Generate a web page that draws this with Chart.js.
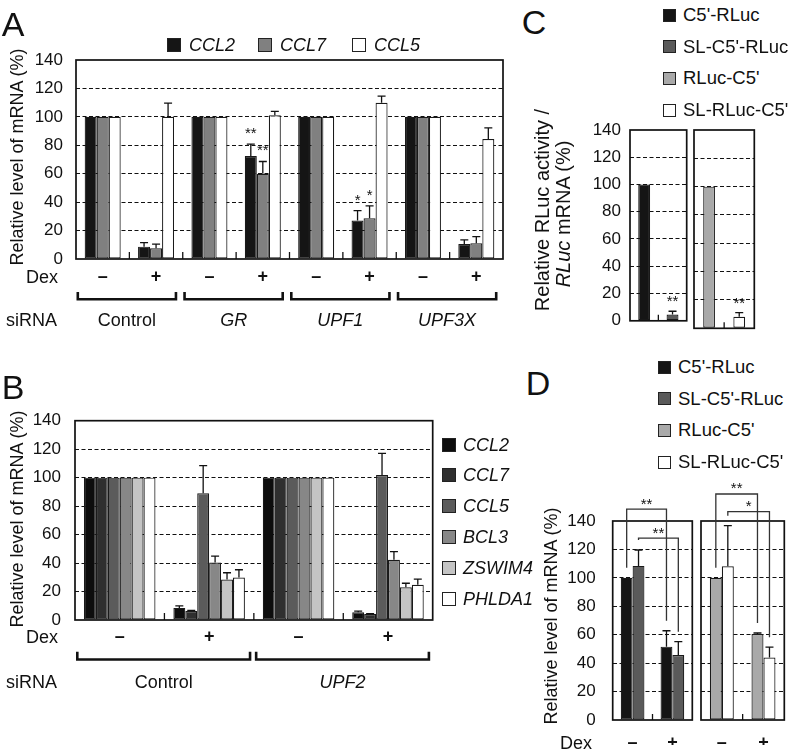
<!DOCTYPE html>
<html><head><meta charset="utf-8">
<script src="https://cdn.jsdelivr.net/npm/chart.js@4.4.1/dist/chart.umd.min.js"></script>
<style>
html,body{margin:0;padding:0;background:#fff;}
#fig{position:relative;width:793px;height:751px;overflow:hidden;font-family:"Liberation Sans",Arial,Helvetica,sans-serif;color:#111;}
canvas{position:absolute;}
.t{position:absolute;white-space:nowrap;line-height:1;}
.sq{position:absolute;border:1.2px solid #222;box-sizing:border-box;}
</style></head><body><div id="fig"></div>
<script>
// ---------------- Data ----------------
const yTicks = [0, 20, 40, 60, 80, 100, 120, 140];

// Panel A
const aDex = ['–', '+', '–', '+', '–', '+', '–', '+'];
const aSiRNA = ['Control', 'GR', 'UPF1', 'UPF3X'];
const aGenes = ['CCL2', 'CCL7', 'CCL5'];
const aCCL2 = [100, 8.7, 100, 72.5, 100, 27.0, 100, 10.6];
const aCCL7 = [100, 7.5, 100, 60.0, 100, 28.7, 100, 11.1];
const aCCL5 = [100, 100, 100, 101.1, 100, 109.9, 100, 84.4];
const aCCL2Err = [0, 2.8, 0, 8.3, 0, 7.1, 0, 2.8];
const aCCL7Err = [0, 2.9, 0, 8.6, 0, 8.7, 0, 4.7];
const aCCL5Err = [0, 9.6, 0, 2.8, 0, 4.7, 0, 7.8];
const aCCL2Sig = ['', '', '', '**', '', '*', '', ''];
const aCCL7Sig = ['', '', '', '**', '', '*', '', ''];

// Panel B
const bDex = ['–', '+', '–', '+'];
const bSiRNA = ['Control', 'UPF2'];
const bGenes = ['CCL2', 'CCL7', 'CCL5', 'BCL3', 'ZSWIM4', 'PHLDA1'];
const bCCL2 = [100, 8.5, 100, 5.4];
const bCCL7 = [100, 6.3, 100, 4.2];
const bCCL5 = [100, 89.0, 100, 101.8];
const bBCL3 = [100, 40.4, 100, 42.3];
const bZSWIM4 = [100, 28.4, 100, 23.0];
const bPHLDA1 = [100, 29.8, 100, 24.7];
const bCCL2Err = [0, 1.4, 0, 0.9];
const bCCL7Err = [0, 0.4, 0, 0.3];
const bCCL5Err = [0, 19.4, 0, 15.3];
const bBCL3Err = [0, 4.5, 0, 5.7];
const bZSWIM4Err = [0, 4.8, 0, 2.8];
const bPHLDA1Err = [0, 5.5, 0, 4.0];

// Panel C
const cConstructs = ["C5'-RLuc", "SL-C5'-RLuc", "RLuc-C5'", "SL-RLuc-C5'"];
const cLeftValues = [100, 4.6];
const cLeftErr = [0, 2.4];
const cLeftSig = ['', '**'];
const cRightValues = [100, 8.2];
const cRightErr = [0, 2.8];
const cRightSig = ['', '**'];

// Panel D
const dDex = ['–', '+'];
const dC5RLuc = [100, 51.6];
const dC5RLucErr = [0, 11.2];
const dSLC5RLuc = [108.4, 45.7];
const dSLC5RLucErr = [11.2, 9.4];
const dRLucC5 = [100, 60.5];
const dRLucC5Err = [0, 0.7];
const dSLRLucC5 = [108.2, 44.0];
const dSLRLucC5Err = [28.5, 7.2];
// significance brackets: dataset index, bracket height (data units), label
const dLeftSig = [{ds: 0, top: 148.3, label: '**'}, {ds: 1, top: 127.9, label: '**'}];
const dRightSig = [{ds: 0, top: 159.0, label: '**'}, {ds: 1, top: 146.6, label: '*'}];

// ---------------- Styles ----------------
const FONT = '"Liberation Sans", Arial, Helvetica, sans-serif';
const aColors = ['#151515', '#808080', '#ffffff'];
const bColors = ['#0d0d0d', '#2f2f2f', '#5b5b5b', '#878787', '#c4c4c4', '#ffffff'];
const cdColors = ['#151515', '#5a5a5a', '#a9a9a9', '#ffffff'];

const fig = document.getElementById('fig');
const figCfg = new Map();

function addText(html, x, y, o = {}) {
  const d = document.createElement('div');
  d.className = 't';
  d.innerHTML = html;
  d.style.fontSize = (o.size || 18) + 'px';
  if (o.italic) d.style.fontStyle = 'italic';
  if (o.bold) d.style.fontWeight = 'bold';
  d.style.left = x + 'px';
  d.style.top = y + 'px';
  const tx = o.align === 'center' ? '-50%' : (o.align === 'right' ? '-100%' : '0');
  d.style.transform = 'translate(' + tx + ',-50%)' + (o.rotate ? ' rotate(-90deg)' : '');
  fig.appendChild(d);
  return d;
}
function legendItem(x, yc, size, color, label, textX, fontSize, italic) {
  const s = document.createElement('div');
  s.className = 'sq';
  s.style.left = x + 'px'; s.style.top = (yc - size / 2) + 'px';
  s.style.width = size + 'px'; s.style.height = size + 'px';
  s.style.background = color;
  fig.appendChild(s);
  addText(label, textX, yc, {size: fontSize, italic: italic});
}
function makeCanvas(l, t, w, h) {
  const c = document.createElement('canvas');
  c.width = w; c.height = h;
  c.style.left = l + 'px'; c.style.top = t + 'px';
  c.style.width = w + 'px'; c.style.height = h + 'px';
  fig.appendChild(c);
  return c;
}

const figPlugin = {
  id: 'figdeco',
  afterDatasetsDraw(chart) {
    const o = figCfg.get(chart.canvas);
    const {ctx, chartArea: a} = chart;
    const x = chart.scales.x, y = chart.scales.y;
    const n = chart.data.labels.length;
    ctx.save();
    ctx.strokeStyle = '#111';
    ctx.fillStyle = '#111';
    ctx.lineCap = 'butt';
    ctx.lineJoin = 'miter';
    // short inner ticks between categories
    ctx.lineWidth = 1.3;
    for (let i = 1; i < n; i++) {
      const xx = (x.getPixelForValue(i - 1) + x.getPixelForValue(i)) / 2;
      ctx.beginPath(); ctx.moveTo(xx, a.bottom); ctx.lineTo(xx, a.bottom - o.tickLen); ctx.stroke();
    }
    // error bars + asterisks
    ctx.font = '15px ' + FONT;
    ctx.textAlign = 'center';
    ctx.textBaseline = 'alphabetic';
    chart.data.datasets.forEach((ds, di) => {
      const meta = chart.getDatasetMeta(di);
      meta.data.forEach((el, i) => {
        const v = ds.data[i];
        if (v === null || v === undefined) return;
        const e = ds.errors ? ds.errors[i] : 0;
        const top = y.getPixelForValue(v + e);
        if (e > 0) {
          ctx.lineWidth = 1.3;
          ctx.beginPath();
          ctx.moveTo(el.x, el.y); ctx.lineTo(el.x, top);
          ctx.moveTo(el.x - 4, top); ctx.lineTo(el.x + 4, top);
          ctx.stroke();
        }
        const s = ds.sig ? ds.sig[i] : '';
        if (s) ctx.fillText(s, el.x, top - o.sigGap);
      });
    });
    // frame
    ctx.lineWidth = 1.7;
    ctx.strokeRect(a.left, a.top, a.right - a.left, a.bottom - a.top);
    // group brackets below axis
    if (o.groups) {
      const g = o.groups;
      const half = (x.getPixelForValue(1) - x.getPixelForValue(0)) / 2;
      ctx.lineWidth = g.lw;
      for (let k = 0; k < n / g.size; k++) {
        const x0 = x.getPixelForValue(k * g.size) - half + g.inL;
        const x1 = x.getPixelForValue(k * g.size + g.size - 1) + half - g.inR;
        const y0 = a.bottom + g.y0, y1 = a.bottom + g.y1;
        ctx.beginPath(); ctx.moveTo(x0, y0); ctx.lineTo(x0, y1); ctx.lineTo(x1, y1); ctx.lineTo(x1, y0); ctx.stroke();
      }
    }
    // significance brackets (panel D)
    if (o.brackets) {
      ctx.lineWidth = 1.3;
      ctx.strokeStyle = '#333';
      o.brackets.forEach(b => {
        const ds = chart.data.datasets[b.ds];
        const meta = chart.getDatasetMeta(b.ds);
        const ends = [0, 1].map(i => {
          const el = meta.data[i];
          const t = y.getPixelForValue(ds.data[i] + (ds.errors ? ds.errors[i] : 0));
          return {x: el.x, y: t - o.legGap};
        });
        const yt = y.getPixelForValue(b.top);
        ctx.beginPath();
        ctx.moveTo(ends[0].x, ends[0].y); ctx.lineTo(ends[0].x, yt);
        ctx.lineTo(ends[1].x, yt); ctx.lineTo(ends[1].x, ends[1].y);
        ctx.stroke();
        ctx.fillText(b.label, (ends[0].x + ends[1].x) / 2, yt - 0.5);
      });
    }
    ctx.restore();
  }
};

function buildChart(o) {
  const cv = makeCanvas(o.cv.l, o.cv.t, o.cv.w, o.cv.h);
  const yW = o.yLabels ? (o.area.l - o.cv.l) : 0;
  const xH = o.xLabels ? o.xH : 0;
  const pad = {
    left: o.area.l - o.cv.l - yW,
    top: o.area.t - o.cv.t,
    right: o.cv.l + o.cv.w - o.area.r,
    bottom: o.cv.t + o.cv.h - o.area.b - xH
  };
  figCfg.set(cv, o.deco);
  const chart = new Chart(cv, {
    type: 'bar',
    data: {labels: o.labels, datasets: o.datasets},
    options: {
      responsive: false, animation: false, events: [], devicePixelRatio: 1,
      layout: {padding: pad},
      datasets: {bar: {categoryPercentage: o.catPct, barPercentage: 1, borderColor: '#1a1a1a', borderWidth: 1.2, borderSkipped: false, skipNull: true}},
      plugins: {legend: {display: false}, tooltip: {enabled: false}},
      scales: {
        x: {
          grid: {display: false, drawTicks: false}, border: {display: false},
          ticks: {display: o.xLabels, color: '#111', font: {family: FONT, size: 18, weight: 'bold'}, padding: o.xPad || 0, maxRotation: 0, autoSkip: false},
          afterFit: s => { s.height = xH; }
        },
        y: {
          min: yTicks[0], max: yTicks[yTicks.length - 1],
          grid: {drawTicks: false, lineWidth: 1.1,
                 color: c => (c.tick && (c.tick.value === yTicks[0] || c.tick.value === yTicks[yTicks.length - 1])) ? 'rgba(0,0,0,0)' : '#111'},
          border: {display: false, dash: [4, 2.5]},
          ticks: {display: o.yLabels, stepSize: yTicks[1] - yTicks[0], color: '#111', font: {family: FONT, size: 17}, padding: o.yPad || 0},
          afterFit: s => { s.width = yW; }
        }
      }
    },
    plugins: [figPlugin]
  });
  return {chart, cv: o.cv};
}

function groupLabels(res, names, size, yc, italicFlags, inL, inR) {
  const x = res.chart.scales.x;
  const half = (x.getPixelForValue(1) - x.getPixelForValue(0)) / 2;
  names.forEach((nm, k) => {
    const x0 = x.getPixelForValue(k * size) - half + inL;
    const x1 = x.getPixelForValue(k * size + size - 1) + half - inR;
    addText(nm, res.cv.l + (x0 + x1) / 2, yc, {align: 'center', italic: italicFlags[k]});
  });
}

// ---------------- Panel A ----------------
const aSeriesVals = [aCCL2, aCCL7, aCCL5];
const aSeriesErr = [aCCL2Err, aCCL7Err, aCCL5Err];
const aSeriesSig = [aCCL2Sig, aCCL7Sig, null];
const chartA = buildChart({
  cv: {l: 0, t: 0, w: 520, h: 312},
  area: {l: 76, t: 60, r: 503, b: 259},
  yLabels: true, xLabels: true, xH: 30, xPad: 7, yPad: 13,
  labels: aDex, catPct: 0.675,
  datasets: aGenes.map((g, i) => ({label: g, data: aSeriesVals[i], errors: aSeriesErr[i], sig: aSeriesSig[i], backgroundColor: aColors[i]})),
  deco: {tickLen: 7, sigGap: 6, groups: {size: 2, y0: 33, y1: 40.3, lw: 2.6, inL: 1.8, inR: 6.8}}
});
groupLabels(chartA, aSiRNA, 2, 320, [false, true, true, true], 1.8, 6.8);

// ---------------- Panel B ----------------
const bSeriesVals = [bCCL2, bCCL7, bCCL5, bBCL3, bZSWIM4, bPHLDA1];
const bSeriesErr = [bCCL2Err, bCCL7Err, bCCL5Err, bBCL3Err, bZSWIM4Err, bPHLDA1Err];
const chartB = buildChart({
  cv: {l: 0, t: 370, w: 520, h: 305},
  area: {l: 75, t: 420.7, r: 432.7, b: 620},
  yLabels: true, xLabels: true, xH: 30, xPad: 6, yPad: 14,
  labels: bDex, catPct: 0.8,
  datasets: bGenes.map((g, i) => ({label: g, data: bSeriesVals[i], errors: bSeriesErr[i], backgroundColor: bColors[i]})),
  deco: {tickLen: 7, sigGap: 5, groups: {size: 2, y0: 31.7, y1: 39.5, lw: 2.6, inL: 2.3, inR: 3.8}}
});
groupLabels(chartB, bSiRNA, 2, 682, [false, true], 2.3, 3.8);

// ---------------- Panel C ----------------
buildChart({
  cv: {l: 520, t: 100, w: 170, h: 240},
  area: {l: 630, t: 130, r: 686.7, b: 328.3},
  yLabels: true, xLabels: false, yPad: 9,
  labels: ['', ''], catPct: 0.42,
  datasets: [{label: cConstructs[0] + ' / ' + cConstructs[1], data: cLeftValues, errors: cLeftErr, sig: cLeftSig, backgroundColor: [cdColors[0], cdColors[1]]}],
  deco: {tickLen: 6, sigGap: 5}
});
buildChart({
  cv: {l: 690, t: 100, w: 100, h: 240},
  area: {l: 694, t: 130, r: 754.3, b: 328.3},
  yLabels: false, xLabels: false,
  labels: ['', ''], catPct: 0.39,
  datasets: [{label: cConstructs[2] + ' / ' + cConstructs[3], data: cRightValues, errors: cRightErr, sig: cRightSig, backgroundColor: [cdColors[2], cdColors[3]]}],
  deco: {tickLen: 6, sigGap: 5}
});

// ---------------- Panel D ----------------
buildChart({
  cv: {l: 520, t: 470, w: 177, h: 281},
  area: {l: 612.7, t: 521, r: 692.3, b: 720},
  yLabels: true, xLabels: true, xH: 25, xPad: 12, yPad: 17,
  labels: dDex, catPct: 0.595,
  datasets: [
    {label: cConstructs[0], data: dC5RLuc, errors: dC5RLucErr, backgroundColor: cdColors[0]},
    {label: cConstructs[1], data: dSLC5RLuc, errors: dSLC5RLucErr, backgroundColor: cdColors[1]}
  ],
  deco: {tickLen: 6, sigGap: 3, legGap: 10, brackets: dLeftSig}
});
buildChart({
  cv: {l: 697, t: 470, w: 96, h: 281},
  area: {l: 701, t: 521, r: 784.3, b: 720},
  yLabels: false, xLabels: true, xH: 25, xPad: 12,
  labels: dDex, catPct: 0.576,
  datasets: [
    {label: cConstructs[2], data: dRLucC5, errors: dRLucC5Err, backgroundColor: cdColors[2]},
    {label: cConstructs[3], data: dSLRLucC5, errors: dSLRLucC5Err, backgroundColor: cdColors[3]}
  ],
  deco: {tickLen: 6, sigGap: 3, legGap: 10, brackets: dRightSig}
});

// ---------------- Texts ----------------
// panel letters
addText('A', 13, 24, {size: 34, align: 'center'});
addText('B', 13, 387, {size: 34, align: 'center'});
addText('C', 534, 22, {size: 34, align: 'center'});
addText('D', 538, 383, {size: 34, align: 'center'});

// Panel A legend + labels
const aLegX = [167, 258, 352];
aGenes.forEach((g, i) => legendItem(aLegX[i], 45, 14, aColors[i], g, aLegX[i] + 22, 18, true));
addText('Relative level of mRNA (%)', 17, 157, {size: 18, align: 'center', rotate: true});
addText('Dex', 58, 277, {align: 'right'});
addText('siRNA', 6, 320);

// Panel B legend + labels
bGenes.forEach((g, i) => legendItem(442, 444.5 + i * 30.8, 14, bColors[i], g, 463, 18, true));
addText('Relative level of mRNA (%)', 17, 519, {size: 18, align: 'center', rotate: true});
addText('Dex', 58, 637, {align: 'right'});
addText('siRNA', 6, 682);

// Panel C legend + labels
cConstructs.forEach((g, i) => legendItem(663, 15 + i * 31.7, 13, cdColors[i], g, 683, 18.5, false));
addText('Relative RLuc activity /', 542, 210, {size: 20, align: 'center', rotate: true});
addText('<i>RLuc</i> mRNA (%)', 563, 214, {size: 20, align: 'center', rotate: true});

// Panel D legend + labels
cConstructs.forEach((g, i) => legendItem(658, 367 + i * 31.7, 13, cdColors[i], g, 678, 18.5, false));
addText('Relative level of mRNA (%)', 551, 616, {size: 18, align: 'center', rotate: true});
addText('Dex', 560, 743);
</script>
</body></html>
